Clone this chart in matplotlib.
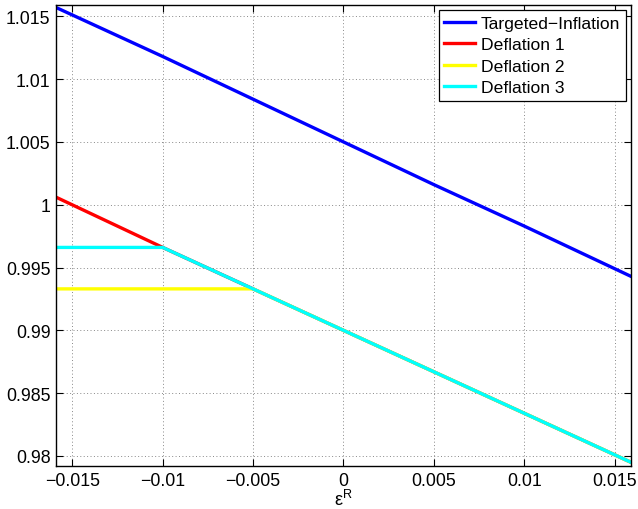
import matplotlib
matplotlib.use("Agg")
import matplotlib.pyplot as plt
from matplotlib.ticker import FuncFormatter, FixedLocator

plt.rcParams['font.family'] = ['Liberation Sans', 'DejaVu Sans']
plt.rcParams['mathtext.default'] = 'regular'

x = [-0.0159, -0.01, -0.005, 0.0, 0.005, 0.01, 0.0159]
targeted_inflation = [1.0157, 1.0118, 1.0084, 1.0050, 1.0016, 0.9983, 0.9943]
deflation1 = [1.0006, 0.9966, 0.9933, 0.9900, 0.9867, 0.9834, 0.9795]
deflation2 = [0.9933, 0.9933, 0.9933, 0.9900, 0.9867, 0.9834, 0.9795]
deflation3 = [0.9966, 0.9966, 0.9933, 0.9900, 0.9867, 0.9834, 0.9795]

xticks = [-0.015, -0.01, -0.005, 0, 0.005, 0.01, 0.015]
yticks = [0.98, 0.985, 0.99, 0.995, 1.0, 1.005, 1.01, 1.015]

fig = plt.figure(figsize=(6.38, 5.10), dpi=100)
ax = fig.add_axes([0.0878, 0.0843, 0.901, 0.904])

ax.plot(x, targeted_inflation, color='#0000ff', lw=2.4, label='Targeted\u2212Inflation')
ax.plot(x, deflation1, color='#ff0000', lw=2.4, label='Deflation 1')
ax.plot(x, deflation2, color='#ffff00', lw=2.4, label='Deflation 2')
ax.plot(x, deflation3, color='#00ffff', lw=2.4, label='Deflation 3')

ax.set_xlim(-0.0159, 0.0159)
ax.set_ylim(0.9792, 1.0159)
ax.xaxis.set_major_locator(FixedLocator(xticks))
ax.yaxis.set_major_locator(FixedLocator(yticks))
fmt = FuncFormatter(lambda v, p: ('%g' % round(v, 6)).replace('-', '\u2212'))
ax.xaxis.set_major_formatter(fmt)
ax.yaxis.set_major_formatter(fmt)
ax.tick_params(direction='in', top=True, right=True, length=5, width=0.8,
               labelsize=12.8, colors='black', pad=4)
ax.grid(True, ls=(0, (1, 2.5)), color='#888888', lw=0.7)
for s in ax.spines.values():
    s.set_linewidth(1.0)

ax.set_xlabel(r'$\varepsilon^{R}$', fontsize=13, labelpad=0)

leg = ax.legend(loc='upper right', fontsize=12.6, fancybox=False, edgecolor='black',
                framealpha=1, borderpad=0.3, handlelength=1.75, handletextpad=0.35,
                labelspacing=0.36, borderaxespad=0.3)
leg.get_frame().set_linewidth(0.9)

fig.savefig('out.png', dpi=100)
